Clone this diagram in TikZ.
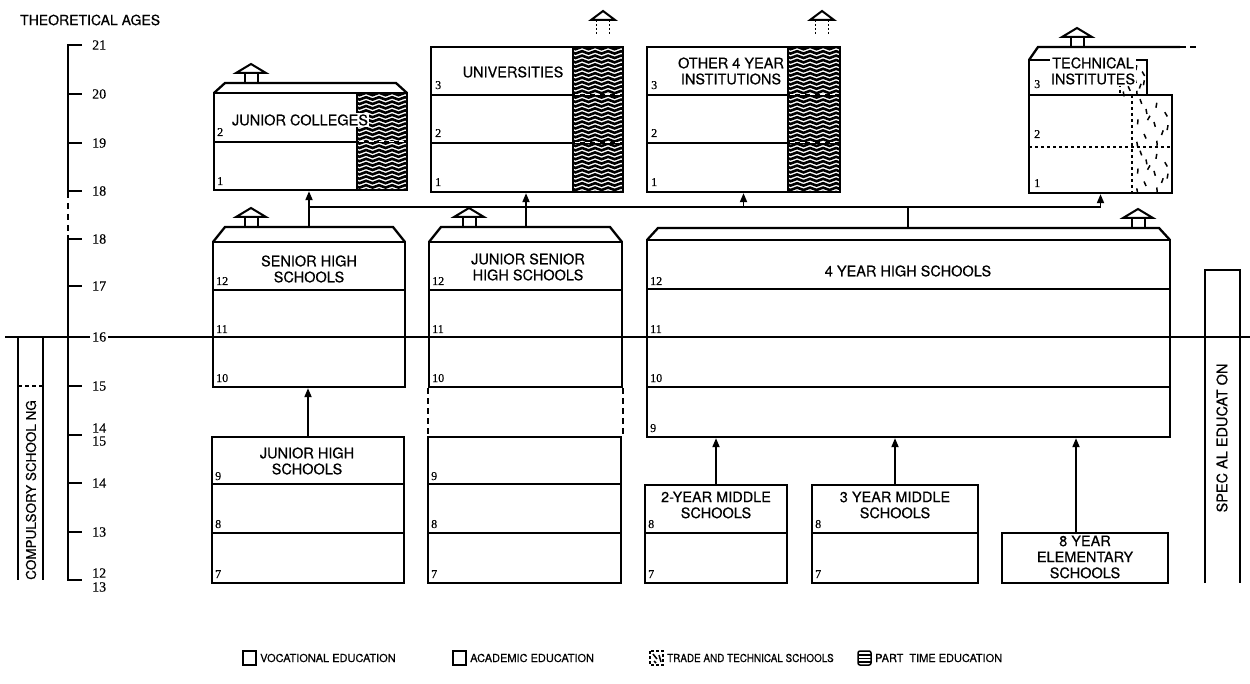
\documentclass[tikz,border=0pt]{standalone}
\usepackage{fontspec}
\setmainfont{TeX Gyre Heros}[FakeBold=0.5]
\newfontfamily\numfont{Liberation Serif}[FakeBold=0.4]
\usetikzlibrary{arrows.meta,decorations.pathmorphing}

\newcommand\lblfont{\fontsize{14.5}{16}\selectfont}
\newcommand\legfont{\fontsize{11}{12}\selectfont}
\newcommand\agefont{\numfont\fontsize{14}{14}\selectfont}
\newcommand\yrfont{\numfont\fontsize{12}{12}\selectfont}

% part-time hatching: wavy horizontal strokes clipped to a rectangle
\newcommand\wavefill[4]{%
  \begin{scope}
    \clip (#1,#2) rectangle (#3,#4);
    \foreach \k in {0,...,45}{
      \draw[wave] ({#1-8},{#2+1+\k*4.4}) -- ({#3+8},{#2+1+\k*4.4});
    }
  \end{scope}}

% trade/technical shading: scattered short strokes
\newcommand\speckle[4]{%
  \foreach \fx/\fy/\a in {0.2/0.08/70, 0.62/0.15/100, 0.35/0.27/80, 0.82/0.33/60,
      0.15/0.47/95, 0.55/0.52/75, 0.78/0.68/110, 0.3/0.75/65, 0.62/0.88/85,
      0.9/0.58/100, 0.45/0.4/120, 0.12/0.9/80}{
    \draw[speck] ({#1+\fx*(#3-#1)},{#2+\fy*(#4-#2)}) -- ++(\a:5);
  }}

% school block body
\newcommand\mkbox[5]{%
  \node[box, minimum width={#4-#2}, minimum height={#5-#3}] (#1) at ({(#2+#4)/2},{(#3+#5)/2}) {};}

% sloped roof above a block
\newcommand\roof[5]{%
  \draw[edge] (#1,#4) -- ({#1+#5},#3) -- ({#2-#5},#3) -- (#2,#4);}

\tikzset{
  edge/.style={line width=2.3pt, line join=miter},
  box/.style={draw, line width=2.3pt, rectangle, inner sep=0pt},
  div/.style={line width=2pt},
  conn/.style={line width=1.8pt},
  arr/.style={line width=1.8pt, -{Triangle[length=9pt,width=7pt]}},
  axisline/.style={line width=2.2pt},
  wave/.style={line width=2.6pt, decorate, decoration={snake, amplitude=1.2pt, segment length=13pt}},
  speck/.style={line width=1.5pt},
  tradeedge/.style={line width=1.6pt, dash pattern=on 3pt off 3pt},
  lbl/.style={font=\lblfont, align=center, inner sep=0pt},
  yr/.style={font=\yrfont, anchor=base west, inner sep=0pt},
  age/.style={font=\agefont, anchor=west, inner sep=0pt},
  leg/.style={font=\legfont, anchor=west, inner sep=0pt},
  houseicon/.pic={
    \draw[line width=2pt, fill=white, line join=miter] (-15,0) -- (0,-9) -- (15,0) -- cycle;
    \draw[line width=2pt] (-6.5,0) -- (-6.5,10) (6.5,0) -- (6.5,10);
  },
  dottedicon/.pic={
    \draw[line width=2pt, fill=white, line join=miter] (-12,0) -- (0,-9) -- (12,0) -- cycle;
    \draw[line width=1.6pt, dash pattern=on 2pt off 2pt] (-6.5,0) -- (-6.5,15) (6.5,0) -- (6.5,15);
  }
}

\begin{document}
\begin{tikzpicture}[x=1pt,y=-1pt]
\useasboundingbox (0,0) rectangle (1250,684);

% ---------- age scale ----------
\node[age, font=\fontsize{14}{16}\selectfont] (agetitle) at (20,20) {THEORETICAL AGES};
\draw[axisline] (5,337) -- (1250,337);
\draw[axisline] (82,45) -- (68,45) -- (68,192);
\draw[axisline, dash pattern=on 6pt off 5pt] (68,192) -- (68,235);
\draw[axisline] (68,235) -- (68,580) -- (82,580);
\foreach \yy in {94,143,191,239,286,386,435,483,532}
  \draw[axisline] (68,\yy) -- (82,\yy);
\foreach \yy/\t in {45/21,94/20,143/19,191/18,239/18,286/17,386/15,483/14,532/13}
  \node[age] (age\yy) at (92,\yy) {\t};
\node[age, fill=white, inner sep=2pt] (age337) at (90,337) {16};
\node[age] (age428) at (92,428) {14};
\node[age] (age441) at (92,441) {15};
\node[age] (age573) at (92,573) {12};
\node[age] (age587) at (92,587) {13};

% compulsory schooling band
\draw[axisline] (18,337) -- (18,580);
\draw[axisline] (43,337) -- (43,580);
\draw[line width=1.8pt, dash pattern=on 4pt off 3pt] (18,386) -- (43,386);
\node[lbl, rotate=90, font=\fontsize{13.5}{15}\selectfont] (comp) at (31,490) {COMPULSORY SCHOOL NG};

% ---------- higher education ----------
% junior colleges
\wavefill{357}{93}{407}{190}
\draw[div] (214,142) -- (407,142);
\draw[white, line width=1pt, dash pattern=on 5pt off 5pt] (359,142) -- (405,142);
\mkbox{jc}{214}{93}{407}{190}
\draw[edge] (357,93) -- (357,190);
\roof{214}{407}{83}{93}{11}
\pic (icjc) at (251,73) {houseicon};
\node[lbl, fill=white, inner sep=1pt] (jct) at (300,120) {JUNIOR COLLEGES};
\node[yr] (jc2) at (217,136) {2};
\node[yr] (jc1) at (217,185) {1};

% universities
\wavefill{573}{47}{623}{192}
\draw[div] (431,95) -- (623,95);
\draw[div] (431,143) -- (623,143);
\draw[white, line width=1pt, dash pattern=on 5pt off 5pt] (575,95) -- (621,95) (575,143) -- (621,143);
\mkbox{uni}{431}{47}{623}{192}
\draw[edge] (573,47) -- (573,192);
\pic (icuni) at (603,20) {dottedicon};
\node[lbl] (unit) at (513,72) {UNIVERSITIES};
\node[yr] (uni3) at (435,89) {3};
\node[yr] (uni2) at (435,137) {2};
\node[yr] (uni1) at (435,186) {1};

% other 4 year institutions
\wavefill{788}{47}{840}{192}
\draw[div] (647,95) -- (840,95);
\draw[div] (647,143) -- (840,143);
\draw[white, line width=1pt, dash pattern=on 5pt off 5pt] (790,95) -- (838,95) (790,143) -- (838,143);
\mkbox{oth}{647}{47}{840}{192}
\draw[edge] (788,47) -- (788,192);
\pic (icoth) at (822,20) {dottedicon};
\node[lbl] (otht) at (731,71) {OTHER 4 YEAR\\INSTITUTIONS};
\node[yr] (oth3) at (651,89) {3};
\node[yr] (oth2) at (651,137) {2};
\node[yr] (oth1) at (651,186) {1};

% technical institutes
\speckle{1120}{60}{1147}{95}
\speckle{1132}{95}{1172}{147}
\speckle{1132}{147}{1172}{193}
\draw[tradeedge] (1120,60) -- (1120,95);
\draw[tradeedge] (1132,95) -- (1132,193);
\draw[tradeedge] (1029,147) -- (1172,147);
\mkbox{ti}{1029}{95}{1172}{193}
\mkbox{tit}{1029}{60}{1147}{95}
\draw[edge] (1029,60) -- (1038,47) -- (1180,47);
\draw[edge, dash pattern=on 6pt off 4pt] (1180,47) -- (1198,47);
\pic (icti) at (1077,37) {houseicon};
\node[lbl, fill=white, inner sep=1pt] (tit-t) at (1093,71) {TECHNICAL\\INSTITUTES};
\node[yr] (ti3) at (1034,88) {3};
\node[yr] (ti2) at (1034,138) {2};
\node[yr] (ti1) at (1034,187) {1};

% ---------- secondary schools ----------
% senior high schools
\mkbox{shs}{213}{242}{405}{387}
\draw[div] (213,290) -- (405,290);
\roof{213}{405}{227}{242}{12}
\pic (icshs) at (251,217) {houseicon};
\coordinate (shsroof) at (309,227);
\node[lbl] (shst) at (309,269) {SENIOR HIGH\\SCHOOLS};
\node[yr] (shs12) at (216,285) {12};
\node[yr] (shs11) at (216,333) {11};
\node[yr] (shs10) at (216,382) {10};

% junior senior high schools (upper part)
\mkbox{jshs}{429}{242}{622}{387}
\draw[div] (429,290) -- (622,290);
\roof{429}{622}{227}{242}{12}
\pic (icjshs) at (469,217) {houseicon};
\coordinate (jshsroof) at (526,227);
\node[lbl] (jshst) at (528,267) {JUNIOR SENIOR\\HIGH SCHOOLS};
\node[yr] (jshs12) at (432,285) {12};
\node[yr] (jshs11) at (432,333) {11};
\node[yr] (jshs10) at (432,382) {10};

% 4 year high schools
\mkbox{fyh}{647}{240}{1170}{437}
\draw[div] (647,289) -- (1170,289);
\draw[div] (647,387) -- (1170,387);
\roof{647}{1170}{228}{240}{11}
\pic (icfyh) at (1138,218) {houseicon};
\coordinate (fyhroof) at (908,228);
\node[lbl] (fyht) at (908,271) {4 YEAR HIGH SCHOOLS};
\node[yr] (fyh12) at (650,285) {12};
\node[yr] (fyh11) at (650,333) {11};
\node[yr] (fyh10) at (650,382) {10};
\node[yr] (fyh9) at (650,432) {9};

% ---------- lower secondary ----------
% junior high schools
\mkbox{jhs}{212}{437}{404}{583}
\draw[div] (212,484) -- (404,484);
\draw[div] (212,533) -- (404,533);
\node[lbl] (jhst) at (307,461) {JUNIOR HIGH\\SCHOOLS};
\node[yr] (jhs9) at (215,480) {9};
\node[yr] (jhs8) at (215,528) {8};
\node[yr] (jhs7) at (215,578) {7};

% junior senior high schools (lower part)
\mkbox{jshl}{428}{437}{621}{583}
\draw[div] (428,484) -- (621,484);
\draw[div] (428,533) -- (621,533);
\draw[line width=2pt, dash pattern=on 6pt off 4pt] (jshs.south west) -- (jshs.south west |- jshl.north);
\draw[line width=2pt, dash pattern=on 6pt off 4pt] (jshs.south east) -- (jshs.south east |- jshl.north);
\node[yr] (jshl9) at (431,480) {9};
\node[yr] (jshl8) at (431,528) {8};
\node[yr] (jshl7) at (431,578) {7};

% 2-year middle schools
\mkbox{tym}{645}{485}{787}{583}
\draw[div] (645,533) -- (787,533);
\node[lbl] (tymt) at (716,505) {2-YEAR MIDDLE\\SCHOOLS};
\node[yr] (tym8) at (648,528) {8};
\node[yr] (tym7) at (648,578) {7};

% 3 year middle schools
\mkbox{thm}{812}{485}{978}{583}
\draw[div] (812,533) -- (978,533);
\node[lbl] (thmt) at (895,505) {3 YEAR MIDDLE\\SCHOOLS};
\node[yr] (thm8) at (815,528) {8};
\node[yr] (thm7) at (815,578) {7};

% 8 year elementary schools
\mkbox{eys}{1002}{533}{1168}{583}
\node[lbl] (eyst) at (1085,557) {8 YEAR\\ELEMENTARY\\SCHOOLS};

% special education
\draw[edge] (1205,583) -- (1205,270) -- (1240,270) -- (1240,583);
\node[lbl, rotate=90] (spec) at (1222,438) {SPEC AL EDUCAT ON};

% ---------- connections ----------
\coordinate (bus) at (0,207);
\draw[arr] (shsroof) -- (shsroof |- jc.south);
\draw[conn] (shsroof |- bus) -- (ti.south |- bus);
\draw[arr] (jshsroof) -- (jshsroof |- uni.south);
\draw[arr] (oth.south |- bus) -- (oth.south);
\draw[arr] (ti.south |- bus) -- (ti.south);
\draw[conn] (fyhroof) -- (fyhroof |- bus);
\draw[arr] (jhs.north) -- (jhs.north |- shs.south);
\draw[arr] (tym.north) -- (tym.north |- fyh.south);
\draw[arr] (thm.north) -- (thm.north |- fyh.south);
\draw[arr] ([xshift=-9pt]eys.north) -- ([xshift=-9pt]eys.north |- fyh.south);

% ---------- legend ----------
\draw[line width=1.5pt] (243,651) rectangle (256,665);
\node[leg] (lvoc) at (260,658) {VOCATIONAL EDUCATION};
\draw[line width=1.5pt] (453,651) rectangle (466,665);
\node[leg] (laca) at (470,658) {ACADEMIC EDUCATION};
\draw[line width=1.5pt, dash pattern=on 3pt off 2pt] (650,651) rectangle (663,665);
\draw[speck] (653,654) -- (657,659) (659,655) -- (661,662) (654,661) -- (656,663);
\node[leg, xscale=0.9] (ltra) at (667,658) {TRADE AND TECHNICAL SCHOOLS};
\draw[line width=1.5pt, rounded corners=2pt] (858,665) -- (858,651) -- (871,651) -- (871,665) -- cycle;
\foreach \yy in {655,658.5,662}
  \draw[line width=1.5pt] (858,\yy) -- (871,\yy);
\node[leg] (lpar) at (875,658) {PART\hspace{6pt}TIME EDUCATION};
\end{tikzpicture}
\end{document}
